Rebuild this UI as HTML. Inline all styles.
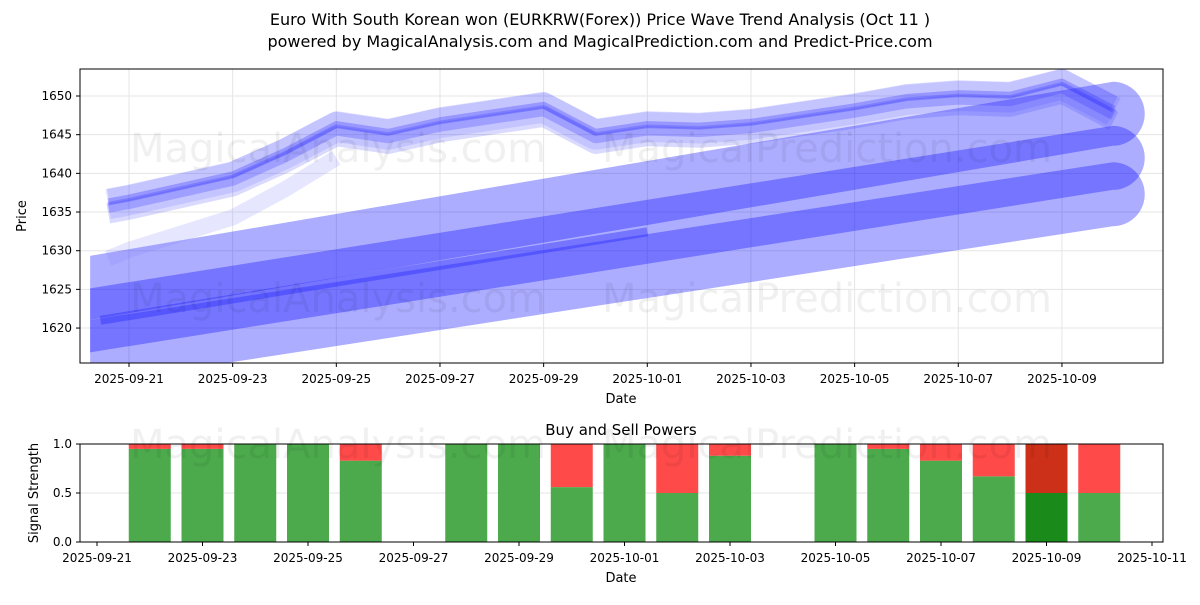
<!DOCTYPE html>
<html><head><meta charset="utf-8"><style>
body{margin:0;background:#fff;font-family:"Liberation Sans","DejaVu Sans",sans-serif}
svg text{font-family:"DejaVu Sans","Liberation Sans",sans-serif}
</style></head><body>
<svg id="c" width="1200" height="600" xmlns="http://www.w3.org/2000/svg">
<text x="600" y="25" text-anchor="middle" font-size="16">Euro With South Korean won (EURKRW(Forex)) Price Wave Trend Analysis (Oct 11 )</text>
<text x="600" y="47" text-anchor="middle" font-size="16">powered by MagicalAnalysis.com and MagicalPrediction.com and Predict-Price.com</text>
<g id="topg"></g><g id="botg"></g>
</svg>
<script>
const priceDays=[-0.4,0,1,2,3,4,5,6,7,8,9,10,11,12,13,14,15,16,17,18,19];
const priceVals=[1636,1636.5,1638,1639.5,1642.5,1646,1645,1646.5,1647.5,1648.5,1645,1646,1645.8,1646.3,1647.3,1648.3,1649.5,1650,1649.8,1651.5,1648];
const trendStartDay=-0.75, trendEndDay=18.98;
const trendStart=[1625.2,1621.0,1616.9];
const trendEnd=[1647.7,1642.0,1637.3];
const barDays=[1,2,3,4,5,7,8,9,10,11,12,14,15,16,17,18,19];
const buyVals=[0.95,0.95,1,1,0.83,1,1,0.56,1,0.5,0.88,1,0.95,0.83,0.67,0.5,0.5];
const topTicks=['2025-09-21','2025-09-23','2025-09-25','2025-09-27','2025-09-29','2025-10-01','2025-10-03','2025-10-05','2025-10-07','2025-10-09'];
const yTicks=[1620,1625,1630,1635,1640,1645,1650];
const botTicks=['2025-09-21','2025-09-23','2025-09-25','2025-09-27','2025-09-29','2025-10-01','2025-10-03','2025-10-05','2025-10-07','2025-10-09','2025-10-11'];
const sTicks=[0,0.5,1];
const NS='http://www.w3.org/2000/svg';
function mk(p,t,a,txt){const e=document.createElementNS(NS,t);for(const k in a)e.setAttribute(k,a[k]);if(txt!==undefined)e.textContent=txt;p.appendChild(e);return e;}
const T={l:80,r:1163,t:69,b:363};
const tx=d=>129+d*51.83, ty=p=>96+(1650-p)*7.735;
const topG=document.getElementById('topg');
const cp=mk(topG,'clipPath',{id:'cl'});mk(cp,'rect',{x:T.l,y:T.t,width:T.r-T.l,height:T.b-T.t});
yTicks.forEach(v=>{const y=ty(v);const g=mk(topG,'line',{x1:T.l,x2:T.r,y1:y,y2:y,stroke:'#e5e5e5'});
const t=mk(topG,'text',{x:T.l-8,y:y+4,'text-anchor':'end','font-size':12},v);mk(topG,'line',{x1:T.l-4,x2:T.l,y1:y,y2:y,stroke:'#000'});});
topTicks.forEach((s,i)=>{const x=tx(i*2);mk(topG,'line',{x1:x,x2:x,y1:T.t,y2:T.b,stroke:'#e5e5e5'});mk(topG,'line',{x1:x,x2:x,y1:T.b,y2:T.b+4,stroke:'#000'});
const t=mk(topG,'text',{x:x,y:T.b+20,'text-anchor':'middle','font-size':12},s);});
const plot=mk(topG,'g',{'clip-path':'url(#cl)'});
trendStart.forEach((s,i)=>{const g=mk(plot,'g',{fill:'#0000ff',stroke:'#0000ff','fill-opacity':0.32,'stroke-opacity':0});

const x1=tx(trendStartDay),y1=ty(s),x2=tx(trendEndDay),y2=ty(trendEnd[i]),h=32;
mk(g,'path',{d:`M${x1},${y1-h} L${x2},${y2-h} A${h},${h} 0 0 1 ${x2},${y2+h} L${x1},${y1+h} Z`});});
const dl=mk(plot,'line',{x1:tx(trendStartDay+0.2),y1:ty(trendStart[1]),x2:tx(10),y2:ty(trendStart[1]+(trendEnd[1]-trendStart[1])*10.75/19.73),stroke:'#3030ff','stroke-width':9,'stroke-opacity':0.45});
const offs=[[0,30,0.13],[-1.2,20,0.18],[1,16,0.18],[-0.4,11,0.25],[0.3,7,0.3]];
offs.forEach(o=>{const pts=priceDays.map((d,i)=>tx(d)+','+ty(priceVals[i]+o[0])).join(' ');const p=mk(plot,'polyline',{points:pts,fill:'none',stroke:'#3030ff','stroke-width':o[1],'stroke-opacity':o[2],'stroke-linejoin':'round'});});
const lp=priceDays.map((d,i)=>tx(d)+','+ty(priceVals[i]-4-(i<6?(5-i)*0.6:0))).slice(0,6).join(' ');
mk(plot,'polyline',{points:lp,fill:'none',stroke:'#8080ff','stroke-width':16,'stroke-opacity':0.2});
const wm=mk(document.getElementById('c'),'g',{fill:'#000','fill-opacity':0.06,'font-size':40});
[[130,162,'MagicalAnalysis.com'],[602,162,'MagicalPrediction.com'],[130,312,'MagicalAnalysis.com'],[602,312,'MagicalPrediction.com'],[130,458,'MagicalAnalysis.com'],[602,458,'MagicalPrediction.com']].forEach(w=>{const t=mk(wm,'text',{x:w[0],y:w[1]},w[2]);});
mk(topG,'rect',{x:T.l,y:T.t,width:T.r-T.l,height:T.b-T.t,fill:'none',stroke:'#000'});
let t=mk(topG,'text',{x:621,y:403,'text-anchor':'middle','font-size':13},'Date');
t=mk(topG,'text',{x:26,y:216,'text-anchor':'middle','font-size':13,transform:'rotate(-90 26 216)'},'Price');
const B={l:80,r:1163,t:444,b:542};
const bx=d=>97+d*52.75, by=v=>B.b-v*(B.b-B.t);
const botG=document.getElementById('botg');
t=mk(botG,'text',{x:621,y:435,'text-anchor':'middle','font-size':15},'Buy and Sell Powers');
sTicks.forEach(v=>{const y=by(v);mk(botG,'line',{x1:B.l,x2:B.r,y1:y,y2:y,stroke:'#e5e5e5'});mk(botG,'line',{x1:B.l-4,x2:B.l,y1:y,y2:y,stroke:'#000'});
const e=mk(botG,'text',{x:B.l-8,y:y+4,'text-anchor':'end','font-size':12},v.toFixed(1));});
botTicks.forEach((s,i)=>{const x=bx(i*2);mk(botG,'line',{x1:x,x2:x,y1:B.b,y2:B.b+4,stroke:'#000'});
const e=mk(botG,'text',{x:x,y:B.b+20,'text-anchor':'middle','font-size':12},s);});
barDays.forEach((d,i)=>{const x=bx(d)-21,w=42;const dark=(i===15);
const g=mk(botG,'rect',{x:x,y:by(buyVals[i]),width:w,height:by(0)-by(buyVals[i]),fill:dark?'#1a8a1a':'#4caa4c'});
const r=mk(botG,'rect',{x:x,y:by(1),width:w,height:by(buyVals[i])-by(1),fill:dark?'#cc3019':'#ff4a4a'});});
mk(botG,'rect',{x:B.l,y:B.t,width:B.r-B.l,height:B.b-B.t,fill:'none',stroke:'#000'});
t=mk(botG,'text',{x:621,y:582,'text-anchor':'middle','font-size':13},'Date');
t=mk(botG,'text',{x:38,y:493,'text-anchor':'middle','font-size':13,transform:'rotate(-90 38 493)'},'Signal Strength');
</script>
</body></html>
